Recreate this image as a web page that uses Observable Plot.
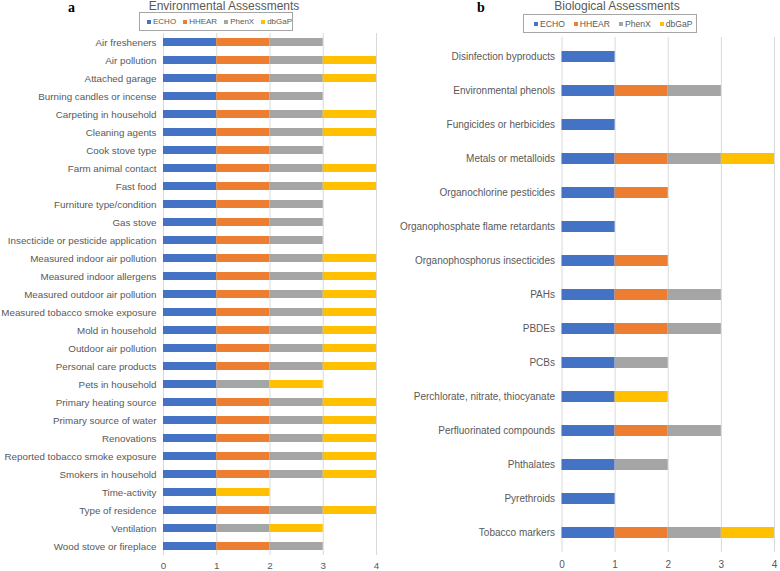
<!DOCTYPE html>
<html>
<head>
<meta charset="utf-8">
<script src="https://cdn.jsdelivr.net/npm/d3@7"></script>
<script src="https://cdn.jsdelivr.net/npm/@observablehq/plot@0.6"></script>
<style>
  html, body { margin: 0; padding: 0; background: #fff; }
  #root { position: relative; width: 780px; height: 571px; overflow: hidden; font-family: "Liberation Sans", Arial, sans-serif; }
  .abs { position: absolute; }
  .title { color: #595959; font-size: 12px; white-space: nowrap; transform: translateX(-50%); line-height: 14px; }
  .panel-letter { font-family: "Liberation Serif", "Times New Roman", serif; font-weight: bold; font-size: 14px; color: #000; line-height: 14px; }
  .legend { border: 1px solid #a6a6a6; box-sizing: border-box; display: flex; align-items: center; color: #595959; white-space: nowrap; }
  .legend .item { display: flex; align-items: center; }
  .legend .sw { width: 4px; height: 4px; margin-right: 2px; display: inline-block; }
</style>
</head>
<body>
<div id="root"></div>
<script>
// ---- Data ----
const seriesNames = ["ECHO", "HHEAR", "PhenX", "dbGaP"];
const seriesColors = ["#4472C4", "#ED7D31", "#A5A5A5", "#FFC000"];
const xTicks = [0, 1, 2, 3, 4];

const envCategories = [
  "Air fresheners", "Air pollution", "Attached garage", "Burning candles or incense",
  "Carpeting in household", "Cleaning agents", "Cook stove type", "Farm animal contact",
  "Fast food", "Furniture type/condition", "Gas stove", "Insecticide or pesticide application",
  "Measured indoor air pollution", "Measured indoor allergens", "Measured outdoor air pollution",
  "Measured tobacco smoke exposure", "Mold in household", "Outdoor air pollution",
  "Personal care products", "Pets in household", "Primary heating source",
  "Primary source of water", "Renovations", "Reported tobacco smoke exposure",
  "Smokers in household", "Time-activity", "Type of residence", "Ventilation",
  "Wood stove or fireplace"
];
const envECHO  = [1,1,1,1,1,1,1,1,1,1,1,1,1,1,1,1,1,1,1,1,1,1,1,1,1,1,1,1,1];
const envHHEAR = [1,1,1,1,1,1,1,1,1,1,1,1,1,1,1,1,1,1,1,0,1,1,1,1,1,0,1,0,1];
const envPhenX = [1,1,1,1,1,1,1,1,1,1,1,1,1,1,1,1,1,1,1,1,1,1,1,1,1,0,1,1,1];
const envDbGaP = [0,1,1,0,1,1,0,1,1,0,0,0,1,1,1,1,1,1,1,1,1,1,1,1,1,1,1,1,0];

const bioCategories = [
  "Disinfection byproducts", "Environmental phenols", "Fungicides or herbicides",
  "Metals or metalloids", "Organochlorine pesticides", "Organophosphate flame retardants",
  "Organophosphorus insecticides", "PAHs", "PBDEs", "PCBs",
  "Perchlorate, nitrate, thiocyanate", "Perfluorinated compounds", "Phthalates",
  "Pyrethroids", "Tobacco markers"
];
const bioECHO  = [1,1,1,1,1,1,1,1,1,1,1,1,1,1,1];
const bioHHEAR = [0,1,0,1,1,0,1,1,1,0,0,1,0,0,1];
const bioPhenX = [0,1,0,1,0,0,0,1,1,1,0,1,1,0,1];
const bioDbGaP = [0,0,0,1,0,0,0,0,0,0,1,0,0,0,1];

// ---- Build tidy rows ----
function tidy(cats, seriesArrays) {
  const rows = [];
  cats.forEach((c, i) => {
    seriesArrays.forEach((arr, j) => {
      if (arr[i]) rows.push({ category: c, series: seriesNames[j], value: arr[i] });
    });
  });
  return rows;
}

function panel(cats, rows, o) {
  return Plot.plot({
    width: o.width,
    height: o.height,
    marginLeft: o.marginLeft,
    marginRight: o.marginRight,
    marginTop: 0,
    marginBottom: o.marginBottom,
    style: { fontFamily: "'Liberation Sans', Arial, sans-serif", fontSize: o.fontSize + "px", color: "#595959", background: "transparent", overflow: "visible" },
    x: { domain: [0, 4], ticks: xTicks, tickSize: 0, tickPadding: o.xTickPadding, label: null, tickFormat: d3.format("d") },
    y: { domain: cats, paddingInner: o.pi, paddingOuter: o.po, tickSize: 0, tickPadding: 7, label: null },
    color: { domain: seriesNames, range: seriesColors },
    marks: [
      Plot.ruleX(xTicks, { stroke: "#d9d9d9", strokeWidth: 1 }),
      Plot.barX(rows, { x: "value", y: "category", fill: "series", order: seriesNames })
    ]
  });
}

const root = document.getElementById("root");

function place(el, left, top) {
  el.style.position = "absolute";
  el.style.left = left + "px";
  el.style.top = top + "px";
  root.appendChild(el);
}

// Panel a
const envRows = tidy(envCategories, [envECHO, envHHEAR, envPhenX, envDbGaP]);
const chartA = panel(envCategories, envRows, {
  width: 390, height: 538, marginLeft: 163, marginRight: 14, marginBottom: 16,
  xTickPadding: 6.5, pi: 0.55, po: 0.275, fontSize: 9.8
});
place(chartA, 0, 33);

// Panel b
const bioRows = tidy(bioCategories, [bioECHO, bioHHEAR, bioPhenX, bioDbGaP]);
const chartB = panel(bioCategories, bioRows, {
  width: 390, height: 534, marginLeft: 171.5, marginRight: 6, marginBottom: 19,
  xTickPadding: 8, pi: 0.68, po: 0.34, fontSize: 10
});
place(chartB, 390, 37);

// Titles, panel letters, legends
function text(cls, str, left, top) {
  const d = document.createElement("div");
  d.className = "abs " + cls;
  d.textContent = str;
  place(d, left, top);
  return d;
}
text("title", "Environmental Assessments", 224, -1);
text("title", "Biological Assessments", 617, -1);
text("panel-letter", "a", 68, 1);
text("panel-letter", "b", 477, 1);

function legend(left, top, width, height, padLeft, gap, fontSize) {
  const box = document.createElement("div");
  box.className = "legend";
  box.style.width = width + "px";
  box.style.height = height + "px";
  box.style.paddingLeft = padLeft + "px";
  box.style.gap = gap + "px";
  box.style.fontSize = fontSize + "px";
  seriesNames.forEach((s, i) => {
    const it = document.createElement("span");
    it.className = "item";
    const sw = document.createElement("span");
    sw.className = "sw";
    sw.style.background = seriesColors[i];
    it.appendChild(sw);
    it.appendChild(document.createTextNode(s));
    box.appendChild(it);
  });
  place(box, left, top);
}
legend(139, 12, 154, 19, 7, 7, 8);
legend(523, 14, 174, 19, 10, 9, 8.6);
</script>
</body>
</html>
